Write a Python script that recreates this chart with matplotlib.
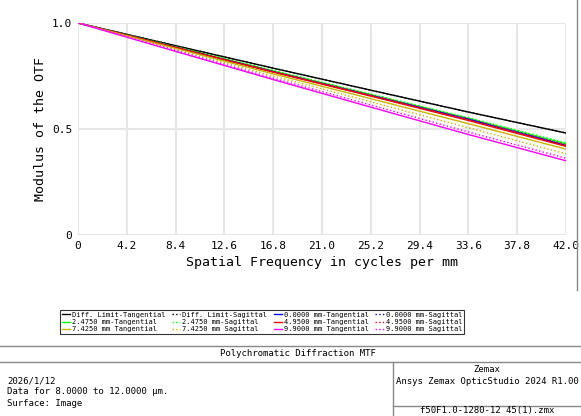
import numpy as np
import matplotlib.pyplot as plt
from matplotlib.lines import Line2D

# spatial frequencies (cycles/mm)
freq = [0, 8.4, 16.8, 25.2, 33.6, 42.0]

# modulus values read at those frequencies
diff_t = [1.0, 0.893, 0.787, 0.683, 0.580, 0.481]
diff_s = [1.0, 0.893, 0.787, 0.683, 0.580, 0.481]
f0_t = [1.0, 0.885, 0.770, 0.658, 0.546, 0.423]
f0_s = [1.0, 0.885, 0.770, 0.658, 0.546, 0.423]
f2_t = [1.0, 0.887, 0.774, 0.662, 0.550, 0.430]
f2_s = [1.0, 0.888, 0.776, 0.665, 0.553, 0.435]
f4_t = [1.0, 0.884, 0.768, 0.655, 0.540, 0.418]
f4_s = [1.0, 0.886, 0.772, 0.660, 0.546, 0.425]
f7_t = [1.0, 0.880, 0.760, 0.643, 0.525, 0.405]
f7_s = [1.0, 0.874, 0.750, 0.628, 0.506, 0.383]
f9_t = [1.0, 0.866, 0.733, 0.603, 0.474, 0.350]
f9_s = [1.0, 0.870, 0.740, 0.613, 0.486, 0.362]

xticks = [0, 4.2, 8.4, 12.6, 16.8, 21.0, 25.2, 29.4, 33.6, 37.8, 42.0]

OLIVE = '#c8b400'
GREEN = '#00ff00'
series = [
    ('Diff. Limit-Tangential', diff_t, 'black', '-'),
    ('2.4750 mm-Tangential', f2_t, GREEN, '-'),
    ('7.4250 mm Tangential', f7_t, OLIVE, '-'),
    ('Diff. Limit-Sagittal', diff_s, 'black', ':'),
    ('2.4750 mm-Sagittal', f2_s, GREEN, ':'),
    ('7.4250 mm Sagittal', f7_s, OLIVE, ':'),
    ('0.0000 mm-Tangential', f0_t, 'blue', '-'),
    ('4.9500 mm-Tangential', f4_t, 'red', '-'),
    ('9.9000 mm Tangential', f9_t, 'magenta', '-'),
    ('0.0000 mm-Sagittal', f0_s, 'blue', ':'),
    ('4.9500 mm-Sagittal', f4_s, 'red', ':'),
    ('9.9000 mm Sagittal', f9_s, 'magenta', ':'),
]

W, H = 581, 416
plt.rcParams['font.family'] = ['DejaVu Sans Mono']
fig = plt.figure(figsize=(W / 100, H / 100), dpi=100)

ax = fig.add_axes([78 / W, 1 - 235 / H, (566 - 78) / W, (235 - 23) / H])
draw_order = [0, 3, 1, 4, 6, 9, 7, 10, 2, 5, 8, 11]
for i in draw_order:
    label, vals, col, ls = series[i]
    ax.plot(freq, vals, color=col, ls=ls, lw=1.0)
ax.set_xlim(0, 42)
ax.set_ylim(0, 1)
ax.set_xticks(xticks)
ax.set_xticklabels([f'{t:.1f}' if t else '0' for t in xticks], fontsize=8)
ax.set_yticks([0, 0.5, 1.0])
ax.set_yticklabels(['0', '0.5', '1.0'], fontsize=8)
ax.grid(color='#e6e6e6', lw=1.5)
for s in ax.spines.values():
    s.set_visible(False)
ax.tick_params(length=0, pad=4)
ax.set_xlabel('Spatial Frequency in cycles per mm', fontsize=9.5)
ax.set_ylabel('Modulus of the OTF', fontsize=9.5)

handles = [Line2D([], [], color=c, ls=ls, lw=1) for _, _, c, ls in series]
labels = [s[0] for s in series]
leg = fig.legend(handles, labels, ncol=4, fontsize=5.0, loc='center',
                 bbox_to_anchor=(262 / W, 1 - 322 / H), frameon=True,
                 fancybox=False, edgecolor='black', handlelength=1.2,
                 columnspacing=0.9, labelspacing=0.2, borderpad=0.3,
                 handletextpad=0.3)
leg.get_frame().set_linewidth(0.8)

# bottom info table
def hline(y, x0=0, x1=W):
    fig.add_artist(Line2D([x0 / W, x1 / W], [1 - y / H, 1 - y / H], color='#888888', lw=1))

def vline(x, y0, y1):
    fig.add_artist(Line2D([x / W, x / W], [1 - y0 / H, 1 - y1 / H], color='#888888', lw=1))

hline(346)
hline(362)
hline(406, 393, W)
vline(393, 362, H)
vline(577, 0, 290)
fig.text(298 / W, 1 - 354 / H, 'Polychromatic Diffraction MTF', fontsize=6.5, ha='center', va='center')
fig.text(7 / W, 1 - 381 / H, '2026/1/12', fontsize=6.5, va='center')
fig.text(7 / W, 1 - 392 / H, 'Data for 8.0000 to 12.0000 \u00b5m.', fontsize=6.5, va='center')
fig.text(7 / W, 1 - 404 / H, 'Surface: Image', fontsize=6.5, va='center')
fig.text(487 / W, 1 - 369 / H, 'Zemax', fontsize=6.5, ha='center', va='center')
fig.text(487 / W, 1 - 381 / H, 'Ansys Zemax OpticStudio 2024 R1.00', fontsize=6.5, ha='center', va='center')
fig.text(487 / W, 1 - 411 / H, 'f50F1.0-1280-12 45(1).zmx', fontsize=6.5, ha='center', va='center')

fig.savefig('out.png', dpi=100)
